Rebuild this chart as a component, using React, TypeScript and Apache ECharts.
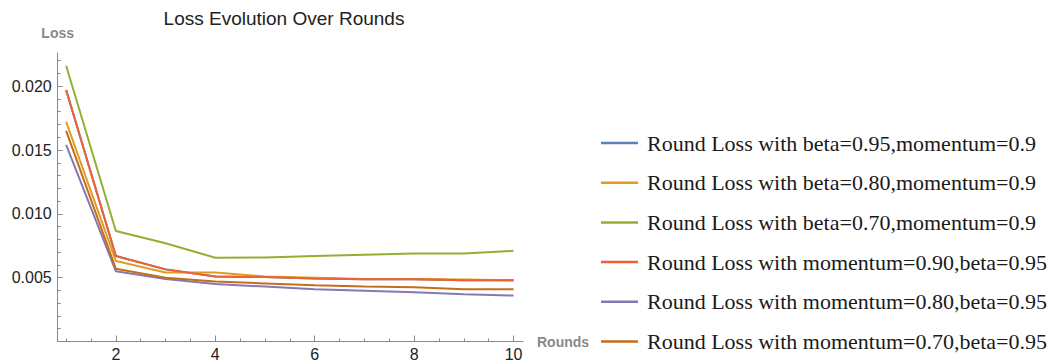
import React, { useEffect, useRef } from "react";
import * as echarts from "echarts";

const rounds = [1, 2, 3, 4, 5, 6, 7, 8, 9, 10];

const seriesNames = [
  "Round Loss with beta=0.95,momentum=0.9",
  "Round Loss with beta=0.80,momentum=0.9",
  "Round Loss with beta=0.70,momentum=0.9",
  "Round Loss with momentum=0.90,beta=0.95",
  "Round Loss with momentum=0.80,beta=0.95",
  "Round Loss with momentum=0.70,beta=0.95",
];

const colors = ["#5E81B5", "#E19C24", "#8FB032", "#EB6235", "#8778B3", "#C56E1A"];

const lossBeta095 = [0.0197, 0.0067, 0.00565, 0.0051, 0.00505, 0.00493, 0.00487, 0.00487, 0.0048, 0.0048];
const lossBeta080 = [0.0172, 0.0063, 0.0054, 0.0054, 0.0051, 0.005, 0.0049, 0.0049, 0.00485, 0.0048];
const lossBeta070 = [0.0216, 0.00865, 0.0077, 0.00656, 0.00659, 0.0067, 0.0068, 0.0069, 0.0069, 0.0071];
const lossMom090 = [0.0197, 0.0067, 0.00565, 0.0051, 0.00505, 0.00493, 0.00487, 0.00487, 0.0048, 0.0048];
const lossMom080 = [0.0154, 0.0055, 0.0049, 0.0045, 0.0043, 0.0041, 0.00398, 0.00385, 0.0037, 0.0036];
const lossMom070 = [0.0165, 0.0057, 0.005, 0.0047, 0.00455, 0.0044, 0.0043, 0.00424, 0.0041, 0.0041];

const xMajorTicks = [2, 4, 6, 8, 10];
const xMinorTicks = [1, 1.5, 2.5, 3, 3.5, 4.5, 5, 5.5, 6.5, 7, 7.5, 8.5, 9, 9.5];
const yMajorTicks = [0.005, 0.01, 0.015, 0.02];
const yMinorTicks = [0.001, 0.002, 0.003, 0.004, 0.006, 0.007, 0.008, 0.009, 0.011, 0.012, 0.013, 0.014, 0.016, 0.017, 0.018, 0.019, 0.021, 0.022];

const allSeries = [lossBeta095, lossBeta080, lossBeta070, lossMom090, lossMom080, lossMom070];

export default function App() {
  const ref = useRef<HTMLDivElement>(null);
  useEffect(() => {
    if (!ref.current) return;
    const chart = echarts.init(ref.current, null, { renderer: "svg" });
    const axisGray = "#8a8a8a";
    const sans = "Liberation Sans";
    const xRange = { min: 0.83, max: 10.19 };
    const yRange = { min: 0, max: 0.0226 };
    chart.setOption({
      animation: false,
      title: {
        text: "Loss Evolution Over Rounds",
        left: 279,
        textAlign: "center",
        top: 4,
        textStyle: { fontFamily: sans, fontSize: 19, fontWeight: "normal", color: "#222" },
      },
      grid: { left: 57.7, right: 534, top: 53, bottom: 22.5, containLabel: false },
      legend: {
        orient: "vertical",
        left: 601,
        top: 131,
        height: 230,
        padding: 0,
        itemWidth: 37,
        itemHeight: 2.5,
        itemGap: 15.7,
        icon: "rect",
        data: seriesNames,
        textStyle: {
          fontFamily: "Liberation Serif",
          fontSize: 22,
          color: "#1a1a1a",
          lineHeight: 24,
          padding: [0, 0, 0, 4],
        },
      },
      xAxis: [
        {
          type: "value",
          ...xRange,
          name: "Rounds",
          nameLocation: "end",
          nameGap: 14,
          nameTextStyle: { fontFamily: sans, fontSize: 14, fontWeight: "bold", color: "#8a8a8a" },
          axisLine: { show: true, lineStyle: { color: axisGray, width: 1 } },
          axisTick: { show: true, inside: true, length: 6, customValues: xMajorTicks, lineStyle: { color: axisGray } },
          axisLabel: { customValues: xMajorTicks, fontFamily: sans, fontSize: 16, color: "#222", margin: 5 },
          splitLine: { show: false },
        },
        {
          type: "value",
          ...xRange,
          position: "bottom",
          axisLine: { show: false },
          axisTick: { show: true, inside: true, length: 3, customValues: xMinorTicks, lineStyle: { color: axisGray } },
          axisLabel: { show: false },
          splitLine: { show: false },
        },
      ],
      yAxis: [
        {
          type: "value",
          ...yRange,
          name: "Loss",
          nameLocation: "end",
          nameGap: 13,
          nameTextStyle: { fontFamily: sans, fontSize: 14, fontWeight: "bold", color: "#8a8a8a", align: "center" },
          axisLine: { show: true, lineStyle: { color: axisGray, width: 1 } },
          axisTick: { show: true, inside: true, length: 5, customValues: yMajorTicks, lineStyle: { color: axisGray } },
          axisLabel: {
            customValues: yMajorTicks,
            fontFamily: sans,
            fontSize: 16,
            color: "#222",
            margin: 6,
            formatter: (v: number) => v.toFixed(3),
          },
          splitLine: { show: false },
        },
        {
          type: "value",
          ...yRange,
          position: "left",
          axisLine: { show: false },
          axisTick: { show: true, inside: true, length: 3, customValues: yMinorTicks, lineStyle: { color: axisGray } },
          axisLabel: { show: false },
          splitLine: { show: false },
        },
      ],
      series: allSeries.map((vals, i) => ({
        name: seriesNames[i],
        type: "line",
        xAxisIndex: 0,
        yAxisIndex: 0,
        data: rounds.map((r, j) => [r, vals[j]]),
        symbol: "none",
        color: colors[i],
        lineStyle: { width: 2, color: colors[i] },
      })),
    });
    return () => chart.dispose();
  }, []);
  return <div ref={ref} style={{ width: 1057, height: 364, position: "absolute", left: 0, top: 0 }} />;
}
